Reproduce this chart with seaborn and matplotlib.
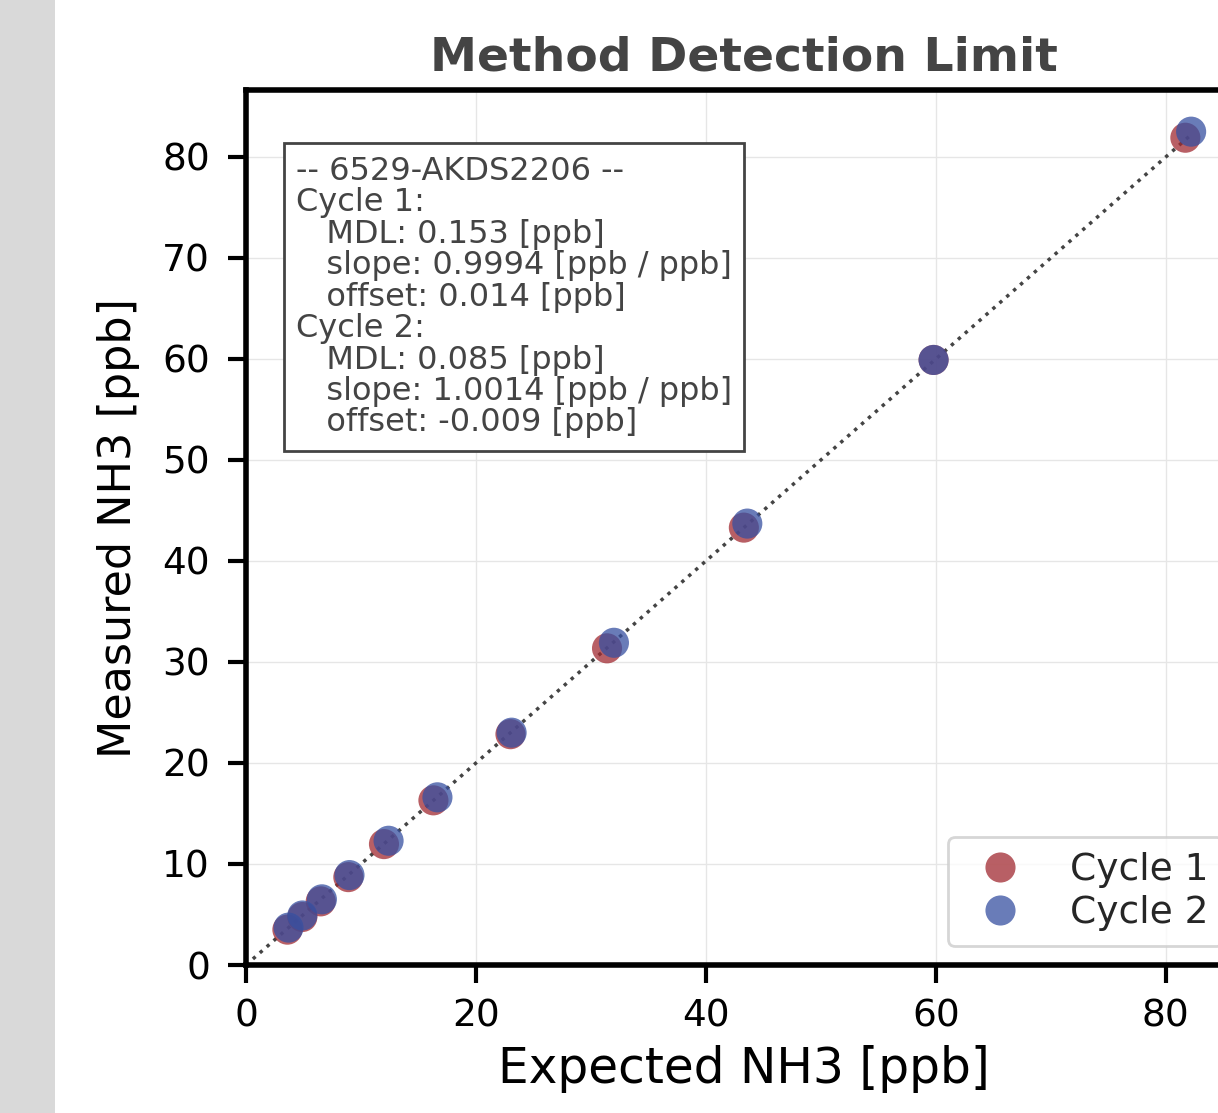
import numpy as np
import pandas as pd
import matplotlib
matplotlib.use('Agg')
import matplotlib.pyplot as plt
from matplotlib.patches import Rectangle
import seaborn as sns

# values
expected_c1 = [3.6, 4.9, 6.5, 8.9, 12.0, 16.3, 23.0, 31.4, 43.3, 59.8, 81.7]
measured_c1 = [3.5, 4.75, 6.3, 8.7, 11.97, 16.3, 22.85, 31.35, 43.3, 59.9, 81.9]
expected_c2 = [3.7, 4.9, 6.6, 9.0, 12.4, 16.65, 23.1, 32.0, 43.6, 59.8, 82.2]
measured_c2 = [3.7, 4.9, 6.5, 8.9, 12.3, 16.6, 23.0, 31.9, 43.7, 59.9, 82.5]
cycle_names = ['Cycle 1', 'Cycle 2']
cycle_colors = ['#a12a31', '#3750a1']

info_text = ('-- 6529-AKDS2206 --\n'
             'Cycle 1:\n'
             '   MDL: 0.153 [ppb]\n'
             '   slope: 0.9994 [ppb / ppb]\n'
             '   offset: 0.014 [ppb]\n'
             'Cycle 2:\n'
             '   MDL: 0.085 [ppb]\n'
             '   slope: 1.0014 [ppb / ppb]\n'
             '   offset: -0.009 [ppb]')

df = pd.concat([
    pd.DataFrame({'expected': expected_c1, 'measured': measured_c1, 'cycle': cycle_names[0]}),
    pd.DataFrame({'expected': expected_c2, 'measured': measured_c2, 'cycle': cycle_names[1]}),
], ignore_index=True)

sns.set_style('whitegrid')
plt.rcParams['font.family'] = ['DejaVu Sans']

fig = plt.figure(figsize=(12.18, 11.13), dpi=100)
# grey strip on the left of the cropped figure
fig.patches.append(Rectangle((0, 0), 55 / 1218, 1, transform=fig.transFigure,
                             facecolor='#d9d9d9', edgecolor='none', zorder=-1))
ax = fig.add_axes([246 / 1218, 148 / 1113, 996 / 1218, 875 / 1113])

top = max(max(measured_c1), max(measured_c2)) * 1.05
ax.plot([0, max(expected_c2)], [0, max(expected_c2)], ls=':', color='#444444', lw=2.5, zorder=1)

sns.scatterplot(data=df, x='expected', y='measured', hue='cycle',
                palette=dict(zip(cycle_names, cycle_colors)), s=470, alpha=0.75,
                edgecolor='none', ax=ax, zorder=3)

ax.set_xlim(0, top)
ax.set_ylim(0, top)
ax.set_xticks([0, 20, 40, 60, 80])
ax.set_yticks(range(0, 81, 10))
ax.grid(True, color='#e6e6e6', lw=1)

for sp in ax.spines.values():
    sp.set_color('black')
    sp.set_linewidth(4)
ax.tick_params(axis='both', which='major', direction='out', length=13, width=3,
               color='black', labelsize=27, labelcolor='black',
               bottom=True, left=True)
ax.tick_params(axis='y', pad=13)
ax.tick_params(axis='x', pad=11)

ax.set_xlabel('Expected NH3 [ppb]', fontsize=35, color='black', labelpad=8)
ax.set_ylabel('Measured NH3 [ppb]', fontsize=32, color='black', labelpad=16)
ax.set_title('Method Detection Limit', fontsize=34, fontweight='bold', color='#444444', pad=14)

ax.text(0.050, 0.925, info_text, transform=ax.transAxes, fontsize=23, color='#444444',
        va='top', ha='left', linespacing=1.02, zorder=5,
        bbox=dict(boxstyle='square,pad=0.38', facecolor='white', edgecolor='#444444', lw=2))

leg = ax.legend(loc='lower right', fontsize=27, markerscale=1.0, handletextpad=0.85,
                frameon=True, borderpad=0.4, labelspacing=0.2)
leg.get_frame().set_edgecolor('#cccccc')
leg.get_frame().set_linewidth(2)
for h in leg.legend_handles:
    h.set_alpha(0.75)

fig.savefig('out.png', dpi=100)
